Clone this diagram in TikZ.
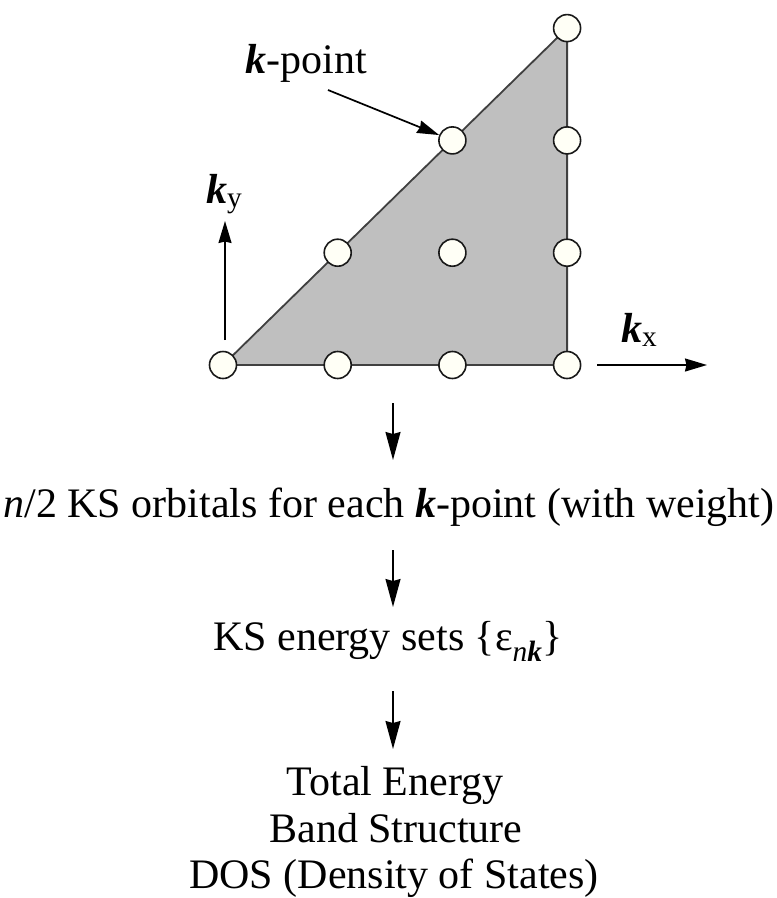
\documentclass[tikz,border=0pt]{standalone}
\usepackage{fontspec}
\setmainfont{Liberation Serif}
\usetikzlibrary{arrows.meta}
\newcommand{\bk}{\textbf{\textit{k}}}
\definecolor{ptfill}{HTML}{FFFFF6}
\begin{document}
\begin{tikzpicture}[x=1pt,y=-1pt,
  kpt/.style={circle,draw=black!90,line width=1.6pt,fill=ptfill,minimum size=27pt,inner sep=0pt},
  arr/.style={line width=1.7pt,-{Stealth[length=22pt,width=13pt,inset=1.5pt]}},
  darr/.style={line width=1.8pt,-{Stealth[length=28pt,width=15pt,inset=2pt]}},
  txt/.style={font=\fontsize{42}{47}\selectfont,inner sep=0pt,anchor=base}]
\useasboundingbox (0,0) rectangle (777,898);
\foreach \i/\j in {0/0,1/0,2/0,3/0,1/1,2/1,3/1,2/2,3/2,3/3}{
  \coordinate (c\i\j) at ({223+114.7*\i},{365-112.3*\j});
}
\filldraw[fill=black!25,draw=black!75,line width=1.8pt] (c00) -- (c30) -- (c33) -- cycle;
\foreach \i/\j in {0/0,1/0,2/0,3/0,1/1,2/1,3/1,2/2,3/2,3/3}{
  \node[kpt] (p\i\j) at (c\i\j) {};
}
\node[txt] (kp) at (306,73) {\bk-point};
\coordinate (kpa) at (328,90);
\draw[arr] (kpa) -- (p22);
\node[txt,anchor=base west] (ky) at (206,203) {\bk\textsubscript{y}};
\coordinate (kys) at (225,340);
\coordinate (kye) at (225,221);
\draw[arr] (kys) -- (kye);
\node[txt,anchor=base west] (kx) at (621,342) {\bk\textsubscript{x}};
\coordinate (kxs) at (597,365);
\coordinate (kxe) at (707,365);
\draw[arr] (kxs) -- (kxe);
\node[txt] (t1) at (389,517) {\textit{n}/2 KS orbitals for each \bk-point (with weight)};
\node[txt] (t2) at (388,650) {KS energy sets \{ε\textsubscript{\textit{n}\bk}\}};
\node[txt] (t3a) at (395,795) {Total Energy};
\node[txt] (t3b) at (396,842) {Band Structure};
\node[txt] (t3c) at (394,888) {DOS (Density of States)};
\coordinate (a1s) at (393,403);
\coordinate (a1e) at (393,460);
\draw[darr] (a1s) -- (a1e);
\coordinate (a2s) at (393,550);
\coordinate (a2e) at (393,607);
\draw[darr] (a2s) -- (a2e);
\coordinate (a3s) at (393,691);
\coordinate (a3e) at (393,749);
\draw[darr] (a3s) -- (a3e);
\end{tikzpicture}
\end{document}
